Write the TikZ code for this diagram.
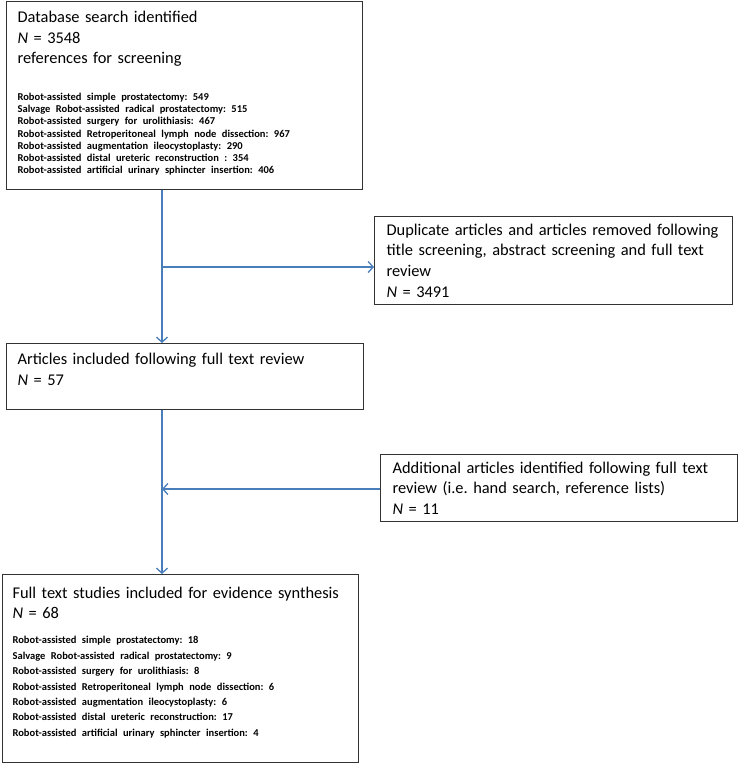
\documentclass[tikz,border=0pt]{standalone}
\usepackage{fontspec}
\setmainfont{Carlito}
\usetikzlibrary{arrows.meta}

\definecolor{flowblue}{HTML}{4A7EBB}
\newcommand{\headtxt}{\fontsize{16.4}{20.7}\selectfont\frenchspacing}
\newcommand{\listtxt}[1]{\fontsize{10.5}{#1}\selectfont\bfseries\frenchspacing}
\newcommand{\padbelow}[1]{\rule[-#1]{0pt}{#1}}

\begin{document}
\begin{tikzpicture}[x=1pt,y=-1pt,
    every node/.style={draw=black!80,line width=1.2pt,rectangle,
      inner xsep=11pt,inner ysep=0pt,align=left,anchor=north west,font=\headtxt},
    flow/.style={draw=flowblue,line width=1.3pt,
      -{Straight Barb[length=5pt,width=11pt]}}]

    \useasboundingbox (0,0) rectangle (738,764);

    % Boxes, each placed at its top left corner
    \node[text width=334pt,minimum height=188pt] (search) at (6,1) {%
      Database search identified\\
      \textit{N} = 3548\\
      references for screening\par
      \vspace{24.5pt}
      {\listtxt{12.2}Robot-assisted simple prostatectomy: 549\\
      Salvage Robot-assisted radical prostatectomy: 515\\
      Robot-assisted surgery for urolithiasis: 467\\
      Robot-assisted Retroperitoneal lymph node dissection: 967\\
      Robot-assisted augmentation ileocystoplasty: 290\\
      Robot-assisted distal ureteric reconstruction : 354\\
      Robot-assisted artificial urinary sphincter insertion: 406\padbelow{6.5pt}\par}};

    \node[text width=334pt,inner xsep=12pt,minimum height=88pt] (removed) at (374,216) {%
      Duplicate articles and articles removed following\\
      title screening, abstract screening and full text\\
      review\\
      \textit{N} = 3491};

    \node[text width=335pt,minimum height=66pt] (included) at (6,343) {%
      Articles included following full text review\\
      \textit{N} = 57\padbelow{14pt}};

    \node[text width=333pt,inner xsep=12pt,minimum height=67pt] (extra) at (380,454) {%
      Additional articles identified following full text\\
      review (i.e. hand search, reference lists)\\
      \textit{N} = 11};

    \node[text width=336pt,inner xsep=10pt,minimum height=188pt] (final) at (2,574) {%
      Full text studies included for evidence synthesis\\
      \textit{N} = 68\par
      \vspace{9.6pt}
      {\listtxt{15.4}Robot-assisted simple prostatectomy: 18\\
      Salvage Robot-assisted radical prostatectomy: 9\\
      Robot-assisted surgery for urolithiasis: 8\\
      Robot-assisted Retroperitoneal lymph node dissection: 6\\
      Robot-assisted augmentation ileocystoplasty: 6\\
      Robot-assisted distal ureteric reconstruction: 17\\
      Robot-assisted artificial urinary sphincter insertion: 4\padbelow{14pt}\par}};

    % Branch points on the main track
    \coordinate (split) at (162,267);
    \coordinate (join) at (162,489);

    % Flow arrows
    \draw[flow] (search.south -| split) -- (included.north -| split);
    \draw[flow] (split) -- (removed.west |- split);
    \draw[flow] (included.south -| join) -- (final.north -| join);
    \draw[flow] (extra.west |- join) -- (join);

\end{tikzpicture}
\end{document}
